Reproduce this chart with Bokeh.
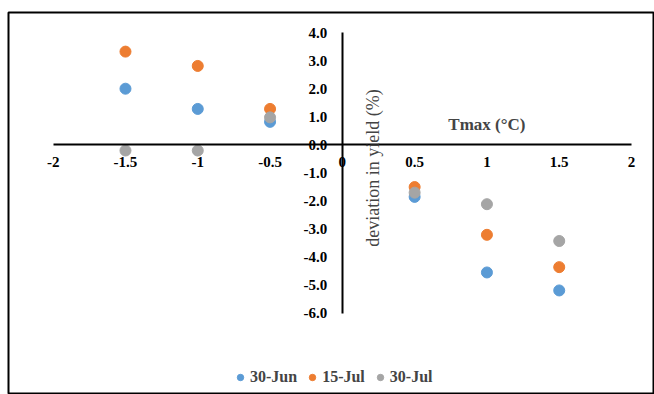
from bokeh.plotting import figure
from bokeh.models import (LinearAxis, FixedTicker, Label, Legend, LegendItem,
                          Range1d, ColumnDataSource)
from bokeh.embed import file_html
from bokeh.resources import INLINE

# ---- data ----
tmax = [-1.5, -1.0, -0.5, 0.5, 1.0, 1.5]
jun30 = [2.0, 1.28, 0.82, -1.85, -4.54, -5.18]
jul15 = [3.32, 2.81, 1.28, -1.50, -3.20, -4.35]
jul30 = [-0.20, -0.20, 0.98, -1.70, -2.11, -3.42]
series_names = ["30-Jun", "15-Jul", "30-Jul"]
series_colors = ["#5B9BD5", "#ED7D31", "#A5A5A5"]

x_ticks = [-2, -1.5, -1, -0.5, 0, 0.5, 1, 1.5, 2]
x_tick_labels = ["-2", "-1.5", "-1", "-0.5", "0", "0.5", "1", "1.5", "2"]
y_ticks = [4, 3, 2, 1, 0, -1, -2, -3, -4, -5, -6]
y_tick_labels = ["4.0", "3.0", "2.0", "1.0", "0.0", "-1.0", "-2.0", "-3.0",
                 "-4.0", "-5.0", "-6.0"]

FONT = "Liberation Serif"

p = figure(width=654, height=394, output_backend="svg", toolbar_location=None,
           x_range=Range1d(-2.309, 2.152), y_range=Range1d(-8.883, 4.712),
           x_axis_location=None, y_axis_location=None,
           min_border_left=8, min_border_top=12, min_border_right=1,
           min_border_bottom=0)
p.grid.visible = False
p.outline_line_color = "black"
p.outline_line_width = 2
p.background_fill_color = "white"
p.border_fill_color = "white"

xaxis = LinearAxis(fixed_location=0, bounds=(-2, 2),
                   ticker=FixedTicker(ticks=x_ticks))
xaxis.major_label_overrides = {t: l for t, l in zip(x_ticks, x_tick_labels)}
yaxis = LinearAxis(fixed_location=0, bounds=(-6, 4),
                   ticker=FixedTicker(ticks=y_ticks))
yaxis.major_label_overrides = {t: l for t, l in zip(y_ticks, y_tick_labels)}
for ax in (xaxis, yaxis):
    ax.axis_line_color = "black"
    ax.axis_line_width = 2
    ax.major_tick_line_color = None
    ax.minor_tick_line_color = None
    ax.major_label_text_font = FONT
    ax.major_label_text_font_style = "bold"
    ax.major_label_text_font_size = "15px"
    ax.major_label_text_color = "black"
xaxis.major_label_standoff = 6
yaxis.major_label_standoff = 9
p.add_layout(xaxis, "below")
p.add_layout(yaxis, "left")

items = []
for name, vals, col in zip(series_names, [jun30, jul15, jul30], series_colors):
    src = ColumnDataSource(dict(x=tmax, y=vals))
    r = p.scatter("x", "y", source=src, size=11, fill_color=col,
                  line_color=col)
    items.append(LegendItem(label=name, renderers=[r]))

legend = Legend(items=items, orientation="horizontal", location=(224, 8),
                label_text_font=FONT, label_text_font_style="bold",
                label_text_font_size="16px", glyph_width=16, glyph_height=16,
                label_standoff=2, spacing=7, padding=0, margin=0,
                border_line_color=None, background_fill_alpha=0)
p.add_layout(legend, "center")

p.add_layout(Label(x=1.0, y=0.71, text="Tmax (°C)", text_font=FONT,
                   text_font_style="bold", text_font_size="17px",
                   text_align="center", text_baseline="middle"))
p.add_layout(Label(x=0.21, y=-0.82, text="deviation in yield (%)",
                   text_font=FONT, text_font_size="18px", angle=1.5708,
                   text_align="center", text_baseline="middle"))

open("out.html", "w").write(file_html(p, INLINE))
